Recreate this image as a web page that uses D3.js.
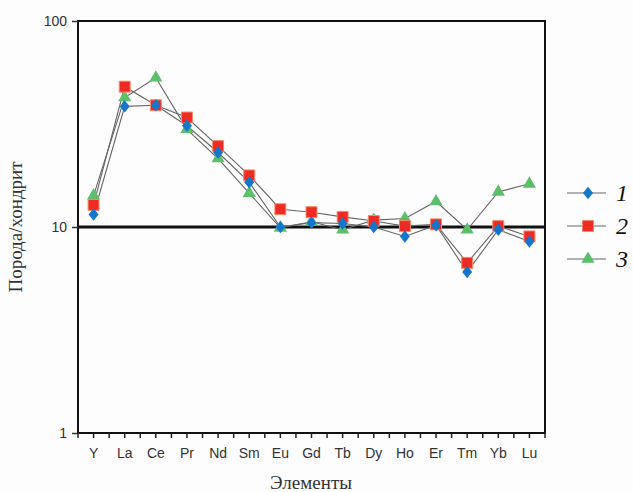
<!DOCTYPE html>
<html><head><meta charset="utf-8">
<script src="https://cdn.jsdelivr.net/npm/d3@7"></script>
<style>body{margin:0;background:#fdfdfd}svg{display:block}</style>
</head><body>
<script>
const elements = ["Y","La","Ce","Pr","Nd","Sm","Eu","Gd","Tb","Dy","Ho","Er","Tm","Yb","Lu"];
const series1 = [11.5,38.5,39,31,23,16.5,10,10.5,10.4,10,9.0,10.2,6.05,9.7,8.5];
const series2 = [12.8,48,39,34,24.7,17.8,12.2,11.8,11.2,10.7,10.1,10.3,6.7,10.1,9.0];
const series3 = [14.2,42.5,53,29.8,21.5,14.6,9.9,10.6,9.7,10.8,11.0,13.3,9.7,14.8,16.2];
const yTicks = [1,10,100];
const seriesNames = ["1","2","3"];

const W=633,H=492;
const m={l:78,r:545,t:21,b:433};
const svg=d3.select("body").append("svg").attr("width",W).attr("height",H);
svg.append("rect").attr("width",W).attr("height",H).attr("fill","#fdfdfd");

const x=d3.scaleBand().domain(elements).range([m.l,m.r]).padding(0);
const y=d3.scaleLog().domain([1,100]).range([m.b,m.t]);

svg.append("line").attr("x1",m.l).attr("x2",m.r).attr("y1",y(10)).attr("y2",y(10))
  .attr("stroke","#111").attr("stroke-width",3);

svg.append("rect").attr("x",m.l).attr("y",m.t).attr("width",m.r-m.l).attr("height",m.b-m.t)
  .attr("fill","none").attr("stroke","#111").attr("stroke-width",2);

const ya=svg.append("g").attr("transform",`translate(${m.l},0)`)
  .call(d3.axisLeft(y).tickValues(yTicks).tickFormat(d3.format("d")).tickSize(6).tickPadding(5));
ya.select(".domain").remove();
ya.selectAll("line").attr("stroke","#333").attr("stroke-width",1.5);
ya.selectAll("text").attr("font-family","Liberation Sans, Arial, sans-serif").attr("font-size",14).attr("fill","#333");

const tickPos=[];
elements.forEach(e=>{tickPos.push(x(e)); tickPos.push(x(e)+x.bandwidth()/2);});
tickPos.push(m.r);
svg.append("g").selectAll("line").data(tickPos).join("line")
  .attr("x1",d=>d).attr("x2",d=>d).attr("y1",m.b).attr("y2",m.b+5)
  .attr("stroke","#222").attr("stroke-width",1.5);
const xa=svg.append("g").attr("transform",`translate(0,${m.b})`)
  .call(d3.axisBottom(x).tickSize(0).tickPadding(15));
xa.select(".domain").remove();
xa.selectAll("text").attr("font-family","Liberation Sans, Arial, sans-serif").attr("font-size",14).attr("fill","#333");

const cx=e=>x(e)+x.bandwidth()/2;
const data=[series1,series2,series3];
const line=d3.line().x((d,i)=>cx(elements[i])).y(d=>y(d));
data.forEach(s=>{
  svg.append("path").datum(s).attr("d",line).attr("fill","none").attr("stroke","#666").attr("stroke-width",1.1);
});

const colors=["#1477c9","#ee2a24","#5bbf6a"];
const diamond={draw(ctx,size){ctx.moveTo(0,-6.2);ctx.lineTo(5,0);ctx.lineTo(0,6.2);ctx.lineTo(-5,0);ctx.closePath();}};
const symbols=[diamond,d3.symbolSquare,d3.symbolTriangle];
const sizes=[60,120,75];
function drawMarker(g,k,px,py){
  const p=g.append("path").attr("d",d3.symbol().type(symbols[k]).size(sizes[k])())
    .attr("transform",`translate(${px},${py})`)
    .attr("fill",colors[k]);
  if(k===1) p.attr("stroke","#f58a6a").attr("stroke-width",1);
}
[2,1,0].forEach(k=>{
  const g=svg.append("g");
  data[k].forEach((v,i)=>drawMarker(g,k,cx(elements[i]),y(v)));
});

const ly=[193,226,259];
seriesNames.forEach((n,k)=>{
  svg.append("line").attr("x1",567).attr("x2",606).attr("y1",ly[k]).attr("y2",ly[k]).attr("stroke","#666").attr("stroke-width",1.1);
  drawMarker(svg,k,588,ly[k]);
  svg.append("text").attr("x",616).attr("y",ly[k]+8).text(n)
    .attr("font-family","Liberation Serif, Times New Roman, serif").attr("font-style","italic").attr("font-size",24).attr("fill","#111");
});

svg.append("text").attr("transform",`translate(22,${(m.t+m.b)/2}) rotate(-90)`).attr("text-anchor","middle")
  .attr("font-family","Liberation Serif, Times New Roman, serif").attr("font-size",19).attr("fill","#333").text("Порода/хондрит");
svg.append("text").attr("x",311).attr("y",489).attr("text-anchor","middle")
  .attr("font-family","Liberation Serif, Times New Roman, serif").attr("font-size",19).attr("fill","#333").text("Элементы");
</script>
</body></html>
